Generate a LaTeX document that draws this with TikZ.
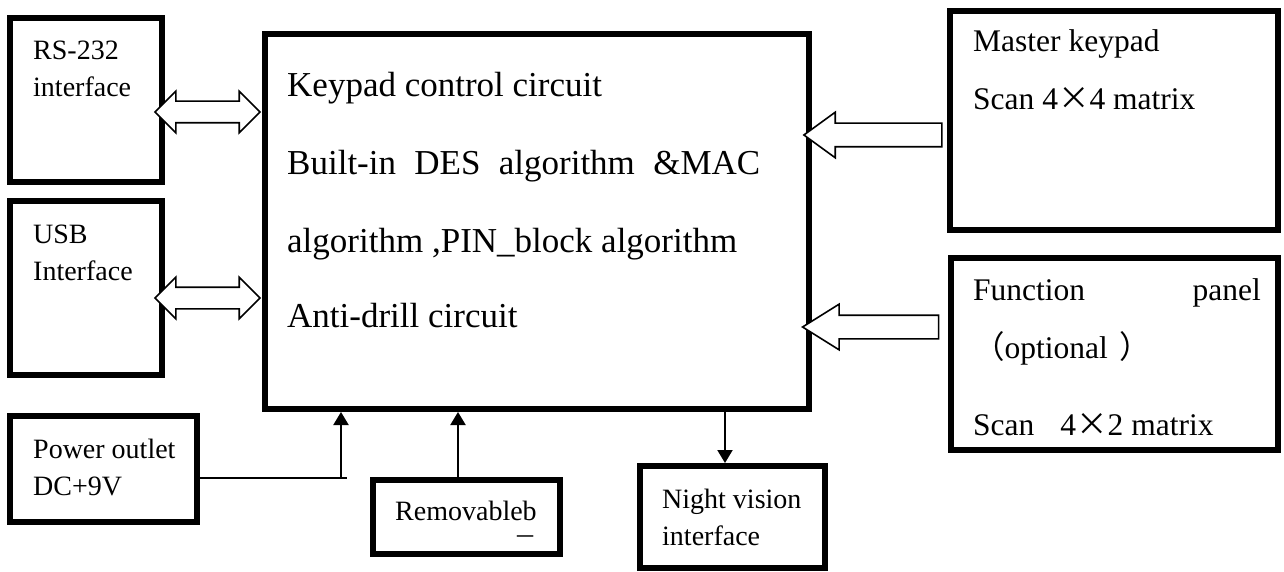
\documentclass[tikz,border=0pt]{standalone}
\usepackage{fontspec}
\setmainfont{Liberation Serif}
\newfontfamily\cjk{Noto Sans CJK SC}
\usetikzlibrary{arrows.meta,shapes.arrows}

\begin{document}
\begin{tikzpicture}[x=1pt,y=-1pt,
    box/.style={draw,line width=6pt,inner sep=0pt},
    wire/.style={line width=2pt,-{Triangle[width=15pt,length=13pt]}},
    dbl/.style={double arrow,draw,fill=white,line width=1.6pt,inner xsep=0pt,inner ysep=10pt,
        double arrow head extend=10pt,minimum height=105pt},
    sgl/.style={single arrow,draw,fill=white,line width=1.6pt,inner xsep=0pt,inner ysep=11pt,
        single arrow head extend=11pt,shape border rotate=180},
    tS/.style={anchor=base west,inner sep=0pt,font=\fontsize{28}{34}\selectfont},
    tM/.style={anchor=base west,inner sep=0pt,font=\fontsize{31.5}{38}\selectfont},
    tL/.style={anchor=base west,inner sep=0pt,font=\fontsize{35}{42}\selectfont}]
        \useasboundingbox (0,0) rectangle (1284,572);
        % boxes
        \node[box,minimum width=152pt,minimum height=164pt] (rs) at (86,100) {};
        \node[box,minimum width=152pt,minimum height=174pt] (usb) at (86,288) {};
        \node[box,minimum width=544pt,minimum height=375pt] (main) at (537,221.5) {};
        \node[box,minimum width=328pt,minimum height=219pt] (master) at (1114,120.5) {};
        \node[box,minimum width=327pt,minimum height=192pt] (func) at (1114.5,354) {};
        \node[box,minimum width=187pt,minimum height=106pt] (power) at (103.5,469) {};
        \node[box,minimum width=187pt,minimum height=74pt] (remov) at (466.5,517) {};
        \node[box,minimum width=185pt,minimum height=102pt] (night) at (732.5,517) {};
        % block arrows
        \node[dbl] (rsarr) at (207.5,112) {};
        \node[dbl] (usbarr) at (207.5,298) {};
        \node[sgl,single arrow tip angle=72,minimum height=138pt] (keyarr) at (881,135) {};
        \node[sgl,single arrow tip angle=64,minimum height=136pt] (funarr) at (880,327) {};
        % texts
        \node[tS] (rs1) at (33,60) {RS-232};
        \node[tS] (rs2) at (33,97) {interface};
        \node[tS] (usb1) at (33,243) {USB};
        \node[tS] (usb2) at (33,280) {Interface};
        \node[tL] (m1) at (287,97) {Keypad control circuit};
        \node[tL] (m2) at (287,175) {\makebox[473pt][s]{Built-in DES algorithm \&MAC}};
        \node[tL] (m3) at (287,252) {algorithm ,PIN\_block algorithm};
        \node[tL] (m4) at (287,327) {Anti-drill circuit};
        \node[tM] (k1) at (973,52) {Master keypad};
        \node[tM] (k2) at (973,110) {Scan 4{\cjk ×}4 matrix};
        \node[tM] (f1) at (973,300) {Function};
        \node[tM,anchor=base east] (f2) at (1261,300) {panel};
        \node[tM] (f3) at (973,358) {{\cjk （}optional\hspace{12pt}{\cjk ）}};
        \node[tM] (f4) at (973,435) {Scan\hspace{26pt}4{\cjk ×}2 matrix};
        \node[tS] (p1) at (33,458) {Power outlet};
        \node[tS] (p2) at (33,495) {DC+9V};
        \node[tS] (r1) at (395,520) {Removableb};
        \node[inner sep=0pt,font=\cjk\fontsize{18}{18}\selectfont] (r2) at (525,540) {一};
        \node[tS] (n1) at (662,508) {Night vision};
        \node[tS] (n2) at (662,545) {interface};
        % wires
        \coordinate (pj) at (341,478);
        \coordinate (rj) at (458,0);
        \coordinate (nj) at (725,0);
        \draw[line width=2pt] (power.east |- pj) -- ([xshift=6pt]pj);
        \draw[wire] (pj) -- (main.south -| pj);
        \draw[wire] (remov.north -| rj) -- (main.south -| rj);
        \draw[wire] (main.south -| nj) -- (night.north -| nj);
    \end{tikzpicture}
\end{document}
